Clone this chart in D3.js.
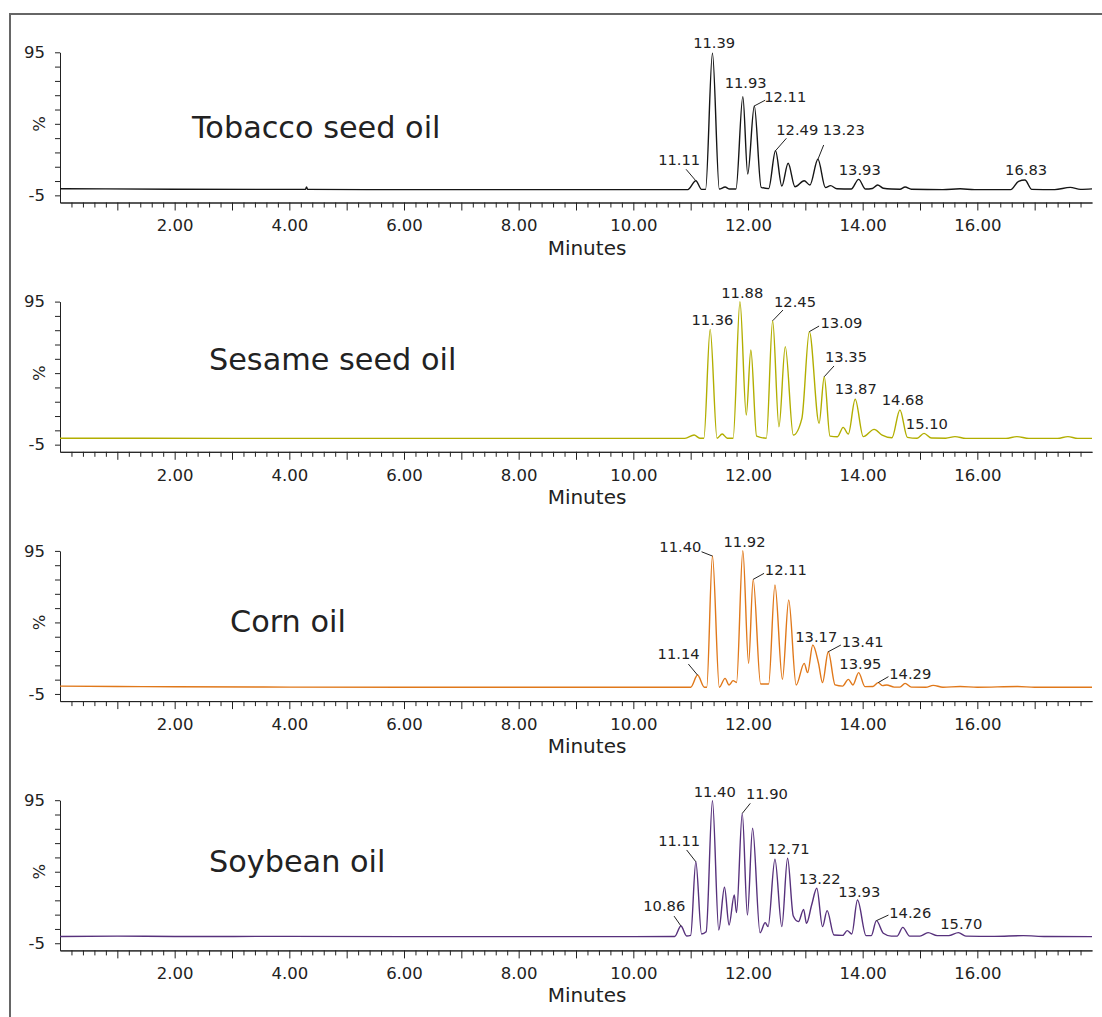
<!DOCTYPE html>
<html><head><meta charset="utf-8">
<script src="https://cdn.jsdelivr.net/npm/d3@7"></script>
<style>
body{margin:0;background:#fff}
svg{display:block}
text{font-family:"DejaVu Sans",Verdana,sans-serif;fill:#222}
</style>
</head><body>
<svg id="c" width="1102" height="1017"></svg>
<script>
// ---------- data ----------
const sampleNames = ["Tobacco seed oil", "Sesame seed oil", "Corn oil", "Soybean oil"];
const xAxisTitle = "Minutes";
const yAxisTitle = "%";
const xLabelledTicks = [2, 4, 6, 8, 10, 12, 14, 16];
const yLabelledTicks = [-5, 95];
const yTitleAt = 45;

// traces: [minutes, %]
const tobaccoTrace = [[0,-0.4],[0.8,-0.5],[2,-0.7],[3.5,-0.8],[4.28,-0.8],[4.3,0.8],[4.32,-0.8],[6,-1],[8,-1],[10,-1],[10.95,-1],[11.09,5.2],[11.19,-0.8],[11.26,-0.8],[11.38,94.3],[11.5,-0.6],[11.6,0.8],[11.68,-0.6],[11.79,-0.6],[11.91,64],[11.995,9.9],[12.11,57.5],[12.23,0.6],[12.36,-0.3],[12.48,26.2],[12.59,1.5],[12.70,17.4],[12.82,1.0],[12.98,5.2],[13.08,2.2],[13.22,20.2],[13.35,0.5],[13.44,1.8],[13.55,-0.4],[13.8,-0.6],[13.93,6.2],[14.05,-0.6],[14.17,-0.2],[14.26,2.2],[14.36,0],[14.5,-0.6],[14.65,-0.7],[14.74,0.8],[14.85,-0.7],[15.4,-1],[15.7,-0.4],[15.95,-1],[16.58,-1],[16.72,4.8],[16.83,5.7],[16.95,-0.8],[17.35,-1],[17.62,0.6],[17.8,-0.8],[18,-0.5]];
const sesameTrace = [[0,-0.5],[3,-0.6],[6,-0.6],[9,-0.6],[10.9,-0.6],[11.06,1.7],[11.16,-0.5],[11.23,-0.5],[11.34,75.6],[11.46,-0.5],[11.55,2.4],[11.64,-0.5],[11.74,-0.5],[11.86,94.9],[11.97,15.7],[12.05,61.2],[12.15,1.0],[12.32,-0.5],[12.43,81.6],[12.54,7.5],[12.65,63.5],[12.79,1.7],[12.94,13.4],[13.07,74],[13.24,9.9],[13.33,42.5],[13.43,1.0],[13.56,0.5],[13.66,7.1],[13.75,2.4],[13.87,26.7],[14.01,0.6],[14.20,5.7],[14.34,1.7],[14.51,-0.2],[14.65,19.2],[14.78,0.1],[14.95,-0.5],[15.07,2.9],[15.2,-0.4],[15.45,-0.5],[15.61,0.6],[15.8,-0.6],[16.5,-0.6],[16.69,0.6],[16.9,-0.6],[17.4,-0.6],[17.58,0.6],[17.75,-0.6],[18,-0.6]];
const cornTrace = [[0,0.5],[1,0.2],[2,0],[4,-0.2],[6,-0.3],[8,-0.3],[10,-0.3],[11.0,-0.3],[11.12,8.2],[11.24,-0.3],[11.28,-0.3],[11.38,91.4],[11.5,-0.3],[11.6,5.9],[11.67,1.3],[11.74,4.3],[11.8,3.0],[11.91,95.1],[12.01,16.4],[12.09,75.1],[12.22,2.0],[12.36,2.0],[12.47,71.2],[12.6,5.2],[12.71,60.7],[12.84,1.3],[12.98,16.4],[13.04,9.9],[13.13,29.2],[13.23,16.4],[13.3,2.9],[13.4,24.5],[13.52,1.3],[13.65,0.5],[13.75,5.2],[13.83,1.3],[13.93,9.9],[14.04,0.1],[14.18,0.2],[14.27,2.9],[14.35,0.8],[14.42,1.3],[14.55,-0.2],[14.65,-0.2],[14.74,2.4],[14.85,-0.2],[15.1,-0.3],[15.23,1.0],[15.4,-0.3],[15.7,0.2],[16,-0.3],[16.7,0.2],[17,-0.3],[18,-0.3]];
const soybeanTrace = [[0,-0.3],[1,0],[2,-0.3],[4,-0.2],[6,-0.4],[8,-0.4],[10,-0.4],[10.72,-0.3],[10.83,7.1],[10.93,0.1],[11.0,0.5],[11.09,52],[11.19,1.5],[11.27,3.0],[11.38,94.6],[11.49,4.3],[11.59,34.1],[11.67,7.8],[11.76,28.7],[11.8,16.4],[11.9,85.8],[11.99,14.7],[12.08,75.4],[12.21,2.4],[12.3,9.4],[12.35,6.6],[12.47,53.7],[12.59,6.6],[12.69,54.4],[12.79,14.0],[12.88,10.1],[12.97,18.7],[13.02,8.9],[13.11,21.7],[13.2,33.4],[13.3,6.6],[13.38,17.8],[13.5,0.8],[13.65,0.5],[13.73,3.8],[13.81,1.5],[13.91,25.2],[14.06,0.3],[14.15,0.3],[14.24,10.8],[14.36,2.0],[14.5,0],[14.6,0],[14.7,6.1],[14.82,0],[15.0,0],[15.14,2.4],[15.3,0.3],[15.5,0.3],[15.67,2.4],[15.8,0],[16.3,-0.2],[16.8,0.3],[17.2,-0.3],[18,-0.4]];

// peak labels: [text, label centre minutes, label centre %, leader [t1,v1,t2,v2] or null]
const tobaccoLabels = [["11.11",10.80,19.7,[11.09,5.2,10.92,13.2]],["11.39",11.41,101.5,null],["11.93",11.96,73.5,null],["12.11",12.65,63.8,[12.11,57.5,12.30,61.5]],["12.49",12.86,40.7,[12.48,26.2,12.67,34.9]],["13.23",13.67,40.9,[13.22,20.2,13.32,30.2]],["13.93",13.95,12.7,null],["16.83",16.85,12.7,null]];
const sesameLabels = [["11.36",11.38,82.1,null],["11.88",11.90,101.2,null],["12.45",12.82,94.9,[12.43,81.6,12.61,89.1]],["13.09",13.63,80.3,[13.07,74,13.24,77.9]],["13.35",13.71,56.5,[13.33,42.5,13.50,50]],["13.87",13.88,33.9,null],["14.68",14.70,26.2,null],["15.10",15.12,9.9,null]];
const cornLabels = [["11.14",10.79,22.9,[11.12,8.2,10.96,15.9]],["11.40",10.82,97.9,[11.38,91.4,11.19,94.4]],["11.92",11.94,101.4,null],["12.11",12.66,81.6,[12.09,75.1,12.28,79.3]],["13.17",13.19,35,null],["13.41",14.00,31.5,[13.40,24.5,13.62,29.2]],["13.95",13.96,16.4,null],["14.29",14.83,9.4,[14.27,2.9,14.45,7.1]]];
const soybeanLabels = [["10.86",10.54,21.4,[10.83,7.1,10.71,14.0]],["11.11",10.80,66.7,[11.09,52,10.93,60.2]],["11.40",11.42,100.9,null],["11.90",12.33,99.8,[11.90,85.8,12.04,92.8]],["12.71",12.71,61.4,null],["13.22",13.25,40.4,null],["13.93",13.94,31.0,null],["14.26",14.83,16.4,[14.24,10.8,14.45,14.7]],["15.70",15.72,9.0,null]];

// ---------- layout / style ----------
const traces = [tobaccoTrace, sesameTrace, cornTrace, soybeanTrace];
const labelSets = [tobaccoLabels, sesameLabels, cornLabels, soybeanLabels];
const colors = ["#151515", "#b2ae00", "#e0781a", "#57317c"];
const panelStep = 249.3;
const titlePos = [[192,138],[209,370],[230,632],[209,872]];

const svg = d3.select("#c");
svg.append("rect").attr("x",10).attr("y",14).attr("width",1200).attr("height",1100)
  .attr("fill","none").attr("stroke","#666").attr("stroke-width",2);

const x = d3.scaleLinear().domain([0, 18]).range([60, 1092]);
const minorTicks = d3.range(1, 90).map(i => i / 5).filter(v => Math.abs(v - Math.round(v)) > 1e-6);
const intTicks = d3.range(1, 18);

traces.forEach((trace, i) => {
  const off = i * panelStep;
  const y = d3.scaleLinear().domain([-10, 95]).range([202.5 + off, 52.3 + off]);
  const g = svg.append("g");

  const ax1 = g.append("g").attr("transform", `translate(0,${y(-10)})`)
    .call(d3.axisBottom(x).tickValues(minorTicks).tickSize(5).tickSizeOuter(0).tickFormat(""));
  const ax2 = g.append("g").attr("transform", `translate(0,${y(-10)})`)
    .call(d3.axisBottom(x).tickValues(intTicks).tickSize(8).tickSizeOuter(0).tickPadding(9)
      .tickFormat(d => xLabelledTicks.includes(d) ? d3.format(".2f")(d) : ""));
  [ax1, ax2].forEach(a => {
    a.selectAll("path,line").attr("stroke", "#222").attr("stroke-width", 1);
    a.selectAll("text").style("font-size", "16.5px").attr("fill", "#222");
  });

  const ay = g.append("g").attr("transform", `translate(${x(0)},0)`)
    .call(d3.axisLeft(y).tickValues(d3.range(-5, 96, 10)).tickSize(5).tickSizeOuter(0).tickPadding(10)
      .tickFormat(d => yLabelledTicks.includes(d) ? d : ""));
  ay.selectAll("path,line").attr("stroke", "#222").attr("stroke-width", 1);
  ay.selectAll("text").style("font-size", "16.5px").attr("fill", "#222");
  g.append("text").attr("transform", `translate(${x(0) - 21},${y(yTitleAt)}) rotate(-90)`)
    .attr("text-anchor", "middle").attr("dy", "0.35em").style("font-size", "16.5px").text(yAxisTitle);

  g.append("text").attr("x", 587).attr("y", y(-10) + 52)
    .attr("text-anchor", "middle").style("font-size", "20px").text(xAxisTitle);

  const line = d3.line().x(d => x(d[0])).y(d => y(d[1])).curve(d3.curveMonotoneX);
  g.append("path").datum(trace).attr("d", line).attr("fill", "none")
    .attr("stroke", colors[i]).attr("stroke-width", 1.4).attr("stroke-linejoin", "round");

  labelSets[i].forEach(l => {
    g.append("text").attr("x", x(l[1])).attr("y", y(l[2])).attr("dy", "0.36em")
      .attr("text-anchor", "middle").style("font-size", "14.7px").text(l[0]);
    if (l[3]) {
      g.append("line").attr("x1", x(l[3][0])).attr("y1", y(l[3][1]))
        .attr("x2", x(l[3][2])).attr("y2", y(l[3][3])).attr("stroke", "#222").attr("stroke-width", 1);
    }
  });

  g.append("text").attr("x", titlePos[i][0]).attr("y", titlePos[i][1])
    .style("font-size", "30.3px").text(sampleNames[i]);
});
</script>
</body></html>
